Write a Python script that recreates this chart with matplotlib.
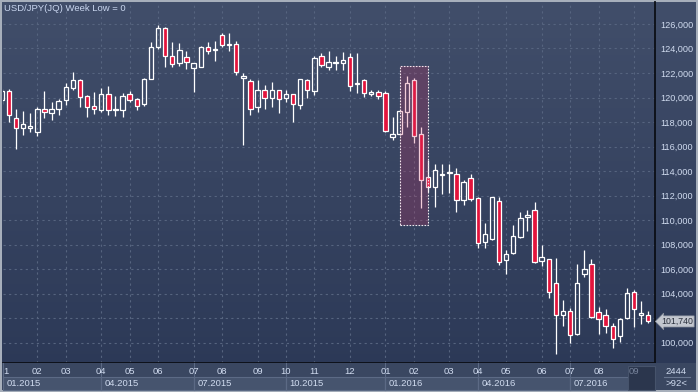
import numpy as np
import matplotlib.pyplot as plt
from matplotlib.patches import Rectangle
from matplotlib.lines import Line2D
from matplotlib.ticker import FuncFormatter
from matplotlib.transforms import blended_transform_factory

plt.rcParams['font.family'] = ['Liberation Sans', 'DejaVu Sans']

# weekly USD/JPY candles (axis shows price x 1000)
opens = [119.8, 120.55, 118.3, 117.5, 117.55, 117.15, 119.1, 118.7, 119.1, 119.8,
         120.75, 121.4, 120.1, 119.3, 119.0, 120.25, 118.95, 119.0, 120.25, 119.85,
         119.45, 121.55, 124.15, 125.65, 123.4, 122.8, 123.3, 122.4, 122.5, 124.1,
         123.85, 125.1, 124.3, 124.35, 121.6, 121.35, 119.2, 120.65, 120.0, 120.6,
         120.0, 120.25, 119.4, 121.45, 120.5, 123.35, 122.45, 122.8, 122.8, 123.3,
         121.1, 121.45, 120.3, 120.45, 120.35, 116.8, 117.0, 118.8, 121.45, 117.0,
         113.55, 112.7, 113.7, 113.85, 113.75, 111.65, 113.4, 111.8, 108.25, 108.45,
         111.6, 106.75, 107.3, 108.6, 110.25, 110.8, 106.7, 106.8, 104.85, 102.3,
         102.6, 100.7, 105.6, 106.4, 102.5, 102.25, 101.35, 100.55, 102.0, 104.1,
         102.3, 102.3]
highs = [120.7, 120.7, 119.1, 118.9, 118.7, 119.25, 120.55, 119.65, 119.9, 121.15,
         122.1, 121.55, 120.2, 120.45, 120.75, 120.95, 120.15, 120.4, 120.55, 120.0,
         121.6, 124.5, 125.9, 125.75, 124.5, 124.45, 123.8, 122.85, 124.2, 124.55,
         124.6, 125.25, 125.3, 124.6, 122.0, 121.5, 121.4, 121.0, 121.25, 120.65,
         120.6, 120.3, 121.5, 121.5, 123.35, 123.65, 123.8, 123.35, 123.7, 123.6,
         123.65, 121.55, 120.65, 120.65, 120.55, 118.45, 118.95, 121.75, 121.6, 117.6,
         114.9, 114.55, 114.55, 114.55, 114.25, 113.3, 113.8, 111.85, 109.75, 111.9,
         111.9, 107.55, 109.6, 110.65, 110.85, 111.45, 107.95, 106.85, 106.9, 103.45,
         102.85, 106.4, 107.55, 106.8, 102.95, 102.75, 101.6, 102.05, 104.45, 104.3,
         103.4, 102.6]
lows = [119.5, 118.0, 115.8, 116.95, 117.15, 116.85, 118.35, 118.15, 118.6, 119.4,
        120.6, 119.25, 118.4, 118.65, 118.85, 118.6, 118.5, 118.45, 119.6, 118.95,
        119.3, 121.5, 123.95, 122.5, 122.45, 122.6, 122.3, 120.45, 122.45, 123.55,
        123.0, 124.1, 123.8, 121.8, 116.15, 118.6, 118.85, 119.1, 119.25, 118.7,
        119.65, 118.0, 119.1, 119.95, 120.2, 122.45, 122.25, 122.25, 122.25, 120.55,
        120.35, 120.05, 120.15, 119.9, 117.2, 116.5, 116.95, 117.6, 116.3, 111.0,
        112.3, 111.1, 112.15, 112.25, 110.7, 111.25, 111.6, 107.7, 107.7, 108.4,
        106.35, 105.6, 107.25, 108.55, 109.15, 106.5, 106.3, 103.65, 99.05, 101.4,
        100.0, 100.6, 105.35, 102.0, 100.75, 100.8, 99.6, 100.05, 101.95, 101.25,
        101.5, 101.6]
closes = [120.5, 118.55, 117.55, 117.8, 117.65, 119.1, 118.8, 119.05, 119.7, 120.85,
          121.4, 120.05, 119.2, 119.05, 120.25, 118.95, 119.05, 120.15, 119.8, 119.3,
          121.55, 124.15, 125.65, 123.4, 122.7, 123.9, 122.9, 122.8, 124.1, 123.8,
          123.95, 124.3, 124.37, 122.05, 121.75, 119.05, 120.6, 120.0, 120.6, 119.9,
          120.25, 119.45, 121.5, 120.65, 123.2, 122.65, 122.9, 122.9, 123.1, 120.95,
          121.15, 120.35, 120.45, 120.15, 117.3, 117.0, 118.9, 121.15, 116.9, 113.25,
          112.7, 114.1, 113.8, 113.95, 111.65, 113.1, 111.7, 108.1, 108.85, 111.85,
          106.55, 107.2, 108.7, 110.15, 110.4, 106.55, 107.0, 104.15, 102.25, 102.55,
          100.65, 104.9, 106.05, 102.1, 101.95, 101.35, 100.3, 101.95, 104.05, 102.75,
          102.4, 101.74]

month_pos = [0, 5, 9, 14, 18, 22, 27, 31, 36, 40, 44, 49, 54, 58, 63, 67, 71, 76, 80, 84, 89]
month_lbl = ['1', '02', '03', '04', '05', '06', '07', '08', '09', '10', '11', '12',
             '01', '02', '03', '04', '05', '06', '07', '08', '09']
quarter_pos = [0.17, 14, 27, 40, 54, 67, 80]
quarter_lbl = ['01.2015', '04.2015', '07.2015', '10.2015', '01.2016', '04.2016', '07.2016']

# highlighted weeks (index range and price range)
hl_x = [56, 60]
hl_y = [109.6, 122.6]

W, H = 698, 392
def px(x0, y0, x1, y1):
    return [x0 / W, 1 - y1 / H, (x1 - x0) / W, (y1 - y0) / H]

fig = plt.figure(figsize=(6.98, 3.92), dpi=100)
fig.patch.set_facecolor('#a7afbb')

bg = fig.add_axes(px(2, 2, 696, 390))
g = np.linspace(0, 1, 256)[:, None, None]
top = np.array([65, 78, 106]) / 255
bot = np.array([43, 56, 86]) / 255
bg.imshow(top + (bot - top) * g, aspect='auto', extent=[0, 1, 0, 1])
bg.axis('off')

# bottom date panel
fig.add_artist(Rectangle((2 / W, 2 / H), 694 / W, 27 / H, transform=fig.transFigure,
                         fc='#3a4761', ec='none'))

ax = fig.add_axes(px(3, 2, 655, 363))
ax.set_facecolor('none')
ax.set_xlim(0.17, 91.95)
ax.set_ylim(98.35, 127.79)

x = np.arange(len(opens))
o = np.array(opens); c = np.array(closes)
h = np.array(highs); l = np.array(lows)
btop = np.maximum(o, c)
bbot = np.minimum(o, c)
bh = np.maximum(btop - bbot, 0.07)
up = c >= o

ax.vlines(x, btop, h, color='white', lw=0.9, zorder=3)
ax.vlines(x, l, bbot, color='white', lw=0.9, zorder=3)
ax.bar(x[up], bh[up], bottom=bbot[up], width=0.62, facecolor='none',
       edgecolor='white', lw=0.9, zorder=4)
ax.bar(x[~up], bh[~up], bottom=bbot[~up], width=0.62, facecolor='#e3143c',
       edgecolor='white', lw=0.9, zorder=4)

ax.add_patch(Rectangle((hl_x[0], hl_y[0]), hl_x[1] - hl_x[0], hl_y[1] - hl_y[0],
                       fc=(0.8, 0.18, 0.38, 0.24), ec='none', zorder=5))
ax.add_patch(Rectangle((hl_x[0], hl_y[0]), hl_x[1] - hl_x[0], hl_y[1] - hl_y[0],
                       fc='none', ec='#f2e6ee', lw=0.8, ls=(0, (1.5, 1.2)), zorder=6))

ax.set_yticks(np.arange(100, 127, 2))
ax.set_xticks(month_pos[1:])
ax.grid(color='#56647f', ls=(0, (2, 3)), lw=0.8)
ax.set_axisbelow(True)
ax.tick_params(axis='x', length=0, labelbottom=False)
ax.yaxis.tick_right()
ax.tick_params(axis='y', length=0, pad=3.5, labelsize=6.6, labelcolor='#d0dbef')
# the 102,000 label sits under the last-price tag
ax.yaxis.set_major_formatter(FuncFormatter(
    lambda v, p: '' if abs(v - 102) < 0.01 else f'{v * 1000:,.0f}'))
for s in ['left', 'top']:
    ax.spines[s].set_visible(False)
for s in ['right', 'bottom']:
    ax.spines[s].set_color('#0b0e15')
    ax.spines[s].set_linewidth(1.3)

# date axis
tr = blended_transform_factory(ax.transData, fig.transFigure)
yb0, yb1 = 1 - 376.5 / H, 1 - 389.5 / H
ends = quarter_pos[1:] + [88.1]
for s, e, lab in zip(quarter_pos, ends, quarter_lbl):
    fig.add_artist(Rectangle((s, yb1), e - s, yb0 - yb1, transform=tr,
                             fc='#46546e', ec='#5c6a85', lw=0.8))
    fig.add_artist(Line2D([s, s], [1 - 363 / H, yb1], transform=tr, color='#5c6a85', lw=0.8))
    fig.text(s + 0.5, 1 - 383 / H, lab, transform=tr, ha='left', va='center',
             fontsize=6.8, color='#d0dbef')
fig.add_artist(Rectangle((88.1, 1 - 389.5 / H), 91.95 - 88.1, 24 / H, transform=tr,
                         fc='#2b364d', ec='#46536b', lw=0.8))
for i, (p, lab) in enumerate(zip(month_pos, month_lbl)):
    col = '#76829a' if i == len(month_pos) - 1 else '#d0dbef'
    if i == 0:
        fig.text(3.5 / W, 1 - 371 / H, lab, ha='left', va='center', fontsize=6.8, color=col)
    else:
        fig.text(p, 1 - 371 / H, lab, transform=tr, ha='center', va='center',
                 fontsize=6.8, color=col)

fig.text(4 / W, 1 - 8.5 / H, 'USD/JPY(JQ) Week Low = 0', ha='left', va='center',
         fontsize=6.8, color='#c9d6ef')

ax.text(1.0095, closes[-1], f'{closes[-1] * 1000:,.0f}',
        transform=blended_transform_factory(ax.transAxes, ax.transData),
        ha='left', va='center', fontsize=6.3, color='#2a303c',
        bbox=dict(boxstyle='larrow,pad=0.12', fc='#c3c7cf', ec='#8d94a0', lw=0.5))

fig.text(676 / W, 1 - 371 / H, '2444', ha='center', va='center', fontsize=6.8, color='#d0dbef')
fig.text(676 / W, 1 - 383.5 / H, '>92<', ha='center', va='center', fontsize=6.8, color='#d0dbef')
fig.add_artist(Line2D([664 / W, 690 / W], [1 - 376.5 / H] * 2, transform=fig.transFigure,
                      color='#6a7891', lw=0.8))

fig.savefig('out.png', dpi=100, facecolor=fig.get_facecolor())
